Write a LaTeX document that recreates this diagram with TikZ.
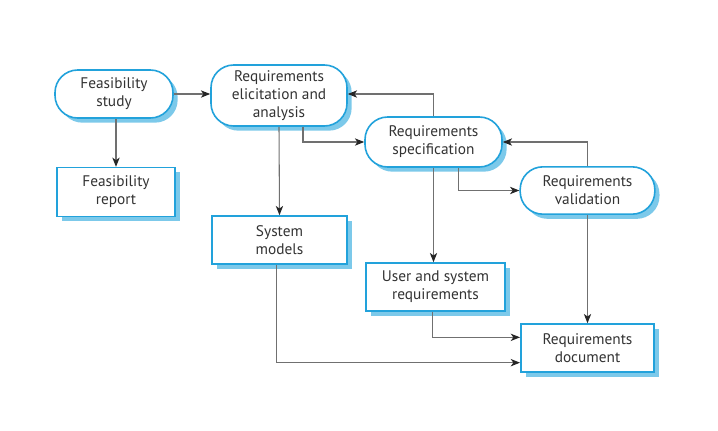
\documentclass[tikz,border=0pt]{standalone}
\usepackage{fontspec}
\setmainfont{PT Sans}
\usetikzlibrary{positioning,arrows.meta,shadows}
\definecolor{reqblue}{HTML}{22A2DB}
\definecolor{reqshade}{HTML}{7CC9EA}
\definecolor{reqline}{HTML}{707070}
\definecolor{reqtext}{HTML}{333333}

\begin{document}
\begin{tikzpicture}[x=0.75pt,y=-0.75pt,
    box/.style={draw=reqblue, line width=1.2pt, fill=white, align=center,
      text=reqtext, font=\fontsize{11.5}{13.5}\selectfont, inner sep=2pt,
      drop shadow={shadow xshift=3.5pt, shadow yshift=-3.5pt, fill=reqshade, opacity=1}},
    activity/.style={box, rounded corners=17pt},
    product/.style={box},
    flow/.style={draw=reqline, line width=0.8pt,
      -{Stealth[length=7pt, width=5.5pt, inset=2pt, color=black!85, fill=black!85]}}]
    \useasboundingbox (0,0) rectangle (718,430);
    % activities
    \node[activity, minimum width=88.5pt, minimum height=36pt] (fs) at (114,94) {Feasibility\\study};
    \node[activity, minimum width=102pt, minimum height=45.75pt] (elic) at (279,95.5) {Requirements\\elicitation and\\analysis};
    \node[activity, minimum width=102.75pt, minimum height=37.5pt] (spec) at (433.5,142) {Requirements\\specification};
    \node[activity, minimum width=101pt, minimum height=35.5pt] (valid) at (587.5,190.5) {Requirements\\validation};
    % products
    \node[product, minimum width=88.5pt, minimum height=36.5pt] (frep) at (116,192) {Feasibility\\report};
    \node[product, minimum width=101pt, minimum height=36pt] (sysm) at (279.5,240) {System\\models};
    \node[product, minimum width=104pt, minimum height=36pt] (usr) at (435.5,287) {User and system\\requirements};
    \node[product, minimum width=100pt, minimum height=36pt] (doc) at (587.5,348) {Requirements\\document};
    % connectors
    \draw[flow] (fs.east) -- (fs.east -| elic.west);
    \draw[flow] (fs.south -| frep) -- (frep.north);
    \draw[flow] (elic.south) -- (sysm.north);
    \draw[flow] ([xshift=18pt]elic.south) |- (spec.west);
    \draw[flow] (spec.north) |- (fs.east -| elic.east);
    \draw[flow] ([xshift=18.5pt]spec.south) |- (valid.west);
    \draw[flow] (valid.north) |- (spec.east);
    \draw[flow] (spec.south) -- (spec.south |- usr.north);
    \draw[flow] (valid.south) -- (doc.north);
    \draw[flow] ([xshift=-2.5pt]usr.south) |- ([yshift=8pt]doc.west);
    \draw[flow] ([xshift=-2pt]sysm.south) |- ([yshift=-11pt]doc.west);
\end{tikzpicture}
\end{document}
